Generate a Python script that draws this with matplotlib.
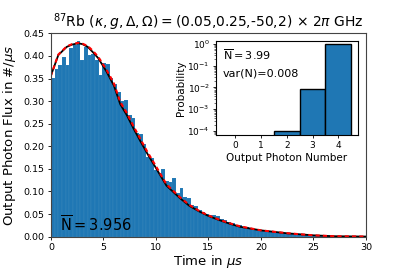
import numpy as np
import matplotlib
matplotlib.use('Agg')
import matplotlib.pyplot as plt

# histogram of photon arrival times (bin width 0.35 us)
bin_width = 0.35
flux_hist = [0.352, 0.372, 0.380, 0.398, 0.380, 0.418, 0.425, 0.432, 0.392, 0.420,
             0.402, 0.405, 0.392, 0.357, 0.384, 0.382, 0.352, 0.338, 0.320, 0.300,
             0.302, 0.270, 0.262, 0.230, 0.228, 0.205, 0.176, 0.175, 0.148, 0.142,
             0.150, 0.123, 0.122, 0.130, 0.096, 0.107, 0.088, 0.085, 0.070, 0.068,
             0.060, 0.055, 0.050, 0.047, 0.048, 0.045, 0.040, 0.036, 0.033, 0.031,
             0.026, 0.025, 0.021, 0.022, 0.019, 0.018, 0.016, 0.015, 0.0135, 0.012,
             0.0125, 0.010, 0.0095, 0.0085, 0.0075, 0.007, 0.006, 0.0058, 0.005, 0.0045,
             0.0038, 0.0035, 0.0028, 0.0026, 0.0022, 0.0021, 0.0018, 0.0016, 0.0014, 0.0012,
             0.0011, 0.0009, 0.0008, 0.0006, 0.0006, 0.0005]

# theory curves
t_theory = [0.0, 0.0, 0.7, 1.5, 2.0, 2.6, 3.0, 3.5, 4.0, 4.5, 5.3, 6.0, 6.6, 7.2, 7.85,
            8.5, 9.2, 10.0, 11.0, 12.3, 13.2, 14.2, 15.0, 16.0, 17.0, 18.0, 20.0,
            22.5, 25.0, 27.0, 30.0]
flux_theory = [0.0, 0.357, 0.402, 0.420, 0.425, 0.428, 0.426, 0.420, 0.408, 0.395, 0.365,
               0.334, 0.293, 0.270, 0.240, 0.212, 0.183, 0.152, 0.113, 0.085, 0.068,
               0.055, 0.046, 0.037, 0.029, 0.022, 0.014, 0.0075, 0.003, 0.001, 0.0003]
flux_master = [0.0, 0.357, 0.403, 0.421, 0.426, 0.429, 0.427, 0.422, 0.411, 0.398, 0.369,
               0.339, 0.298, 0.275, 0.245, 0.217, 0.187, 0.156, 0.116, 0.087, 0.070,
               0.056, 0.047, 0.038, 0.030, 0.023, 0.014, 0.0078, 0.003, 0.001, 0.0003]

# photon number distribution
photon_n = [0, 1, 2, 3, 4]
photon_prob = [0.0, 0.0, 1.05e-4, 0.0083, 0.9917]

fig = plt.figure(figsize=(4.07, 2.71), dpi=100)
ax = fig.add_axes([0.1253, 0.1266, 0.7735, 0.7505])

left_edges = np.arange(len(flux_hist)) * bin_width
ax.bar(left_edges, flux_hist, width=bin_width, align='edge', color='#1f77b4',
       edgecolor=(1, 1, 1, 0.12), linewidth=0.3)
ax.plot(t_theory, flux_theory, color='k', lw=1.3)
ax.plot(t_theory, flux_master, color='r', lw=1.5, ls='--', dashes=(2, 1.5))

ax.set_xlim(0, 30)
ax.set_ylim(0, 0.45)
ax.set_xticks([0, 5, 10, 15, 20, 25, 30])
ax.set_yticks(np.arange(0, 0.451, 0.05))
ax.tick_params(labelsize=6.8, length=2.5, width=0.6, pad=2)
for s in ax.spines.values():
    s.set_linewidth(0.8)
    s.set_color('#444444')
ax.set_xlabel(r'Time in $\mu s$', fontsize=9.5, labelpad=1)
ax.set_ylabel(r'Output Photon Flux in #/$\mu s$', fontsize=9.5, labelpad=4)
ax.set_title(r'$^{87}$Rb $(\kappa,g,\Delta,\Omega)=$(0.05,0.25,-50,2) $\times\ 2\pi$ GHz',
             fontsize=10, pad=4)
ax.text(0.9, 0.012, r'$\overline{\rm N}=3.956$', fontsize=10.5)

# inset with photon number distribution
ax_in = fig.add_axes([0.5307, 0.5018, 0.348, 0.348])
n_pos = [n for n, p in zip(photon_n, photon_prob) if p > 0]
p_pos = [p for p in photon_prob if p > 0]
ax_in.bar(n_pos, p_pos, width=1, color='#1f77b4', edgecolor='k', linewidth=1.0)
ax_in.set_yscale('log')
ax_in.set_ylim(6.6e-5, 1.4)
ax_in.set_xlim(-0.75, 4.75)
ax_in.set_xticks(photon_n)
ax_in.tick_params(labelsize=6.5, length=2.5, width=0.6, pad=2)
ax_in.tick_params(which='minor', length=1.5, width=0.4)
ax_in.set_xlabel('Output Photon Number', fontsize=7.5, labelpad=2)
ax_in.set_ylabel('Probability', fontsize=7.5, labelpad=1)
ax_in.text(0.05, 0.8, r'$\overline{\rm N}=3.99$', transform=ax_in.transAxes, fontsize=8)
ax_in.text(0.05, 0.62, 'var(N)=0.008', transform=ax_in.transAxes, fontsize=8)

fig.savefig('out.png', dpi=100)
